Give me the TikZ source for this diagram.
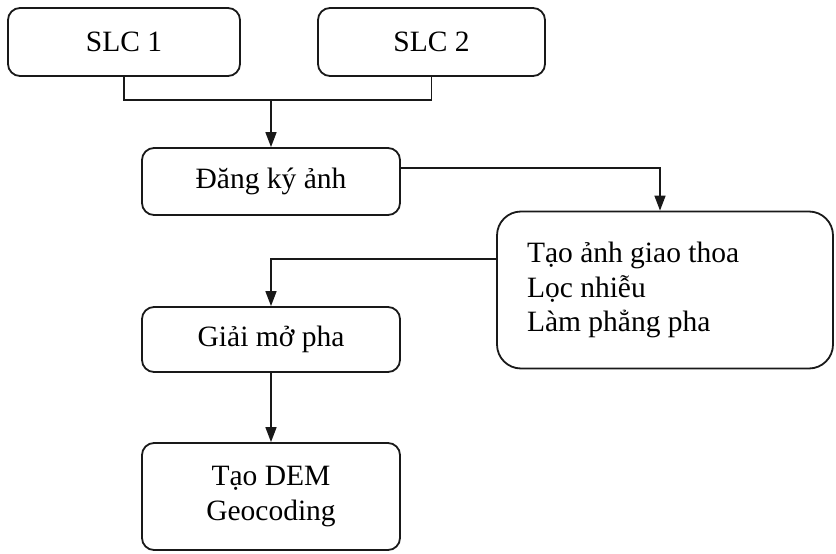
\documentclass[tikz,border=0pt]{standalone}
\usepackage{fontspec}
\setmainfont{Liberation Serif}
\usetikzlibrary{arrows.meta,calc}
\begin{document}
\begin{tikzpicture}[x=1pt,y=-1pt,
  box/.style={draw=black!90, line width=1.8pt, rounded corners=12pt,
    font=\fontsize{29.5}{34.5}\selectfont, inner sep=0pt, align=center},
  conn/.style={draw=black!90, line width=1.6pt},
  arr/.style={conn, -{Triangle[length=15pt,width=11pt]}}]
\useasboundingbox (0,0) rectangle (836,554);
\node[box, minimum width=232pt, minimum height=68pt] (s1) at (124,42) {SLC 1};
\node[box, minimum width=227pt, minimum height=68pt] (s2) at (431.5,42) {SLC 2};
\node[box, minimum width=258pt, minimum height=67pt] (dk) at (271,181.5) {Đăng ký ảnh};
\node[box, rounded corners=24pt, minimum width=336pt, minimum height=157pt,
      inner xsep=30pt, text width=276pt, align=flush left] (big) at (665,290)
      {Tạo ảnh giao thoa\\Lọc nhiễu\\Làm phẳng pha};
\node[box, minimum width=258pt, minimum height=65pt] (gm) at (271,339.5) {Giải mở pha};
\node[box, minimum width=258pt, minimum height=107pt] (dem) at (271,496.5) {Tạo DEM\\Geocoding};
\coordinate (j) at (271,100);
\coordinate (c1) at (660,168);
\coordinate (c2) at (271,259);
\draw[conn] (s1.south) -- (s1.south |- j) -- (s2.south |- j) -- (s2.south);
\draw[arr] (j) -- (dk.north);
\draw[arr] (dk.east |- c1) -| (c1 |- big.north);
\draw[arr] (big.west |- c2) -| (gm.north);
\draw[arr] (gm.south) -- (dem.north);
\end{tikzpicture}
\end{document}
